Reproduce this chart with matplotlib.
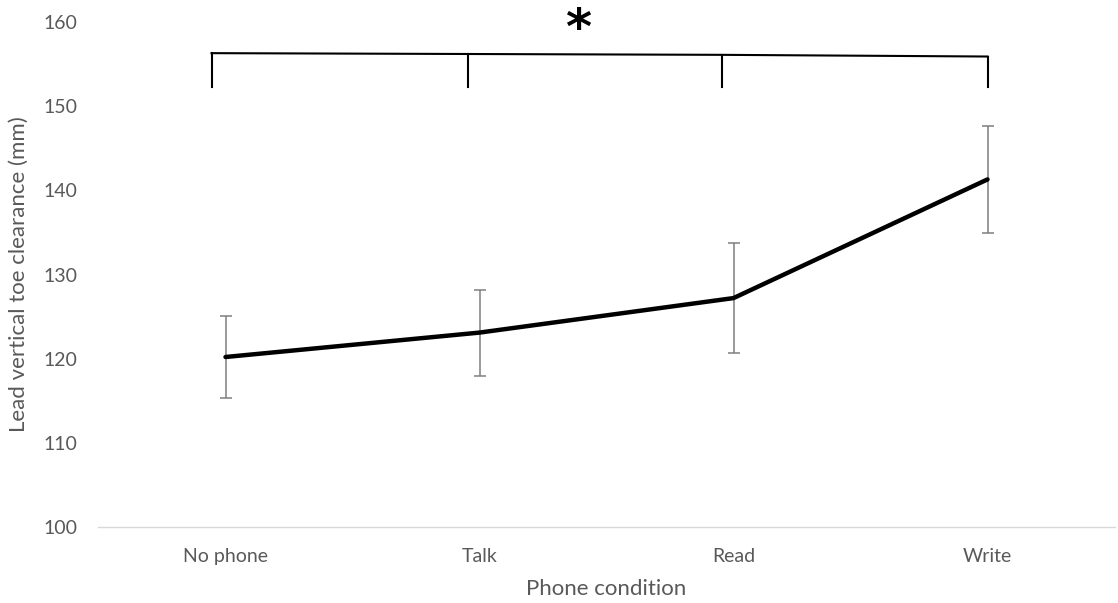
import matplotlib.pyplot as plt
import numpy as np

plt.rcParams['font.family'] = ['Lato', 'DejaVu Sans']

conditions = ['No phone', 'Talk', 'Read', 'Write']
toe_clearance = [120.2, 123.1, 127.2, 141.3]
err = [4.85, 5.1, 6.5, 6.4]

# significance bracket (tick positions relative to categories)
bracket_x = [-0.055, 0.955, 1.953, 3.0]
bracket_top = [156.3, 156.2, 156.1, 155.9]
bracket_bottom = 152.3

x = np.arange(len(conditions))

fig = plt.figure(figsize=(11.18, 6.03), dpi=100)
ax = fig.add_axes([0.0881, 0.126, 0.9088, 0.8375])

ax.errorbar(x, toe_clearance, yerr=err, fmt='none', ecolor='#7f7f7f',
            elinewidth=1.1, capsize=4.5, capthick=1.1, zorder=2)
ax.plot(x, toe_clearance, color='black', lw=3.2, solid_capstyle='round', zorder=3)

# bracket
ax.plot(bracket_x, bracket_top, color='black', lw=1.5, clip_on=False)
for bx, bt in zip(bracket_x, bracket_top):
    ax.plot([bx, bx], [bt, bracket_bottom], color='black', lw=1.5, clip_on=False)
ax.text(1.39, 159.0, '*', ha='center', va='center', fontsize=36,
        fontweight='bold', family='DejaVu Sans')

ax.set_xlim(-0.5, 3.5)
ax.set_ylim(100, 160)
ax.set_yticks(range(100, 161, 10))
ax.set_xticks(x)
ax.set_xticklabels(conditions)
ax.tick_params(length=0, labelsize=14, colors='#595959')
ax.tick_params(axis='x', pad=15)
ax.tick_params(axis='y', pad=15)

for s in ['top', 'right', 'left']:
    ax.spines[s].set_visible(False)
ax.spines['bottom'].set_color('#d9d9d9')
ax.spines['bottom'].set_linewidth(1)

ax.set_xlabel('Phone condition', fontsize=16, color='#595959', labelpad=10)
ax.set_ylabel('Lead vertical toe clearance (mm)', fontsize=16, color='#595959', labelpad=11)

fig.savefig('out.png', dpi=100)
